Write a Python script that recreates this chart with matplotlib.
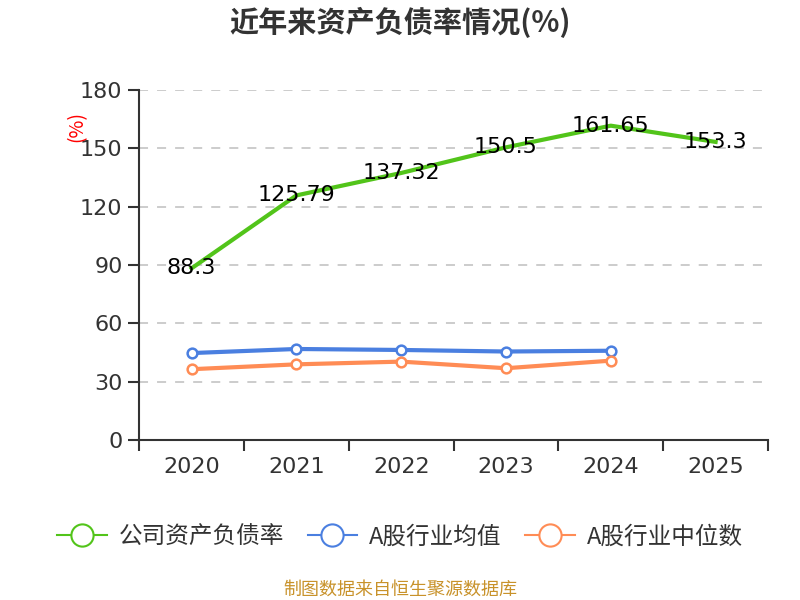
import matplotlib.pyplot as plt
from matplotlib.lines import Line2D

plt.rcParams['font.family'] = ['Noto Sans CJK SC', 'DejaVu Sans']
num_font = ['DejaVu Sans']

years = ['2020', '2021', '2022', '2023', '2024', '2025']
company = [88.3, 125.79, 137.32, 150.5, 161.65, 153.3]
ind_avg = [44.7, 46.8, 46.3, 45.5, 45.9]
ind_med = [36.4, 38.9, 40.3, 36.9, 40.8]

green = '#52c41a'
blue = '#4a7fe0'
orange = '#ff8c55'

fig = plt.figure(figsize=(8, 6), dpi=100)
ax = fig.add_axes([0.174, 0.2667, 0.786, 0.5833])

x = list(range(len(years)))
ax.plot(x, company, color=green, lw=3, zorder=3)
ax.plot(x[:len(ind_avg)], ind_avg, color=blue, lw=3, marker='o', ms=7,
        mfc='white', mec=blue, mew=1.8, zorder=3)
ax.plot(x[:len(ind_med)], ind_med, color=orange, lw=3, marker='o', ms=7,
        mfc='white', mec=orange, mew=1.8, zorder=3)

for xi, v in zip(x, company):
    ax.text(xi, v, f'{v:g}', ha='center', va='center', fontsize=16,
            color='black', zorder=4, family=num_font)

ax.set_xlim(-0.5, len(years) - 0.5)
ax.set_ylim(0, 180)
ax.set_yticks(range(0, 181, 30))
ax.tick_params(axis='y', labelsize=16, colors='#333333', length=8, width=1.5,
               direction='out', pad=4)
ax.set_xticks([i - 0.5 for i in range(len(years) + 1)])
ax.set_xticklabels([])
ax.set_xticks(x, minor=True)
ax.set_xticklabels(years, minor=True)
ax.tick_params(axis='x', which='major', length=8, width=1.5, color='#333333')
ax.tick_params(axis='x', which='minor', length=0, labelsize=16,
               colors='#333333', pad=12)
for lab in ax.get_yticklabels() + ax.get_xticklabels(minor=True):
    lab.set_family(num_font)
ax.grid(axis='y', ls=(0, (5, 5)), color='#c8c8c8', lw=1.3)
for s in ['top', 'right']:
    ax.spines[s].set_visible(False)
for s in ['left', 'bottom']:
    ax.spines[s].set_color('#333333')
    ax.spines[s].set_linewidth(1.5)

fig.text(0.096, 0.79, '(%)', color='red', fontsize=14, rotation=90,
         ha='center', va='center')
fig.text(0.5, 0.962, '近年来资产负债率情况(%)', ha='center', va='center',
         fontsize=21, fontweight='bold', color='#333333')

handles = [Line2D([], [], color=c, lw=1.5, marker='o', ms=16, mfc='white',
                  mec=c, mew=1.5) for c in (green, blue, orange)]
fig.legend(handles, ['公司资产负债率', 'A股行业均值', 'A股行业中位数'],
           loc='center', bbox_to_anchor=(0.5, 0.105), ncol=3, frameon=False,
           fontsize=17, handlelength=2.1, handletextpad=0.5,
           columnspacing=1.0, labelcolor='#333333')

fig.text(0.5, 0.018, '制图数据来自恒生聚源数据库', ha='center', va='center',
         fontsize=13, color='#c8922a')

fig.savefig('out.png')
